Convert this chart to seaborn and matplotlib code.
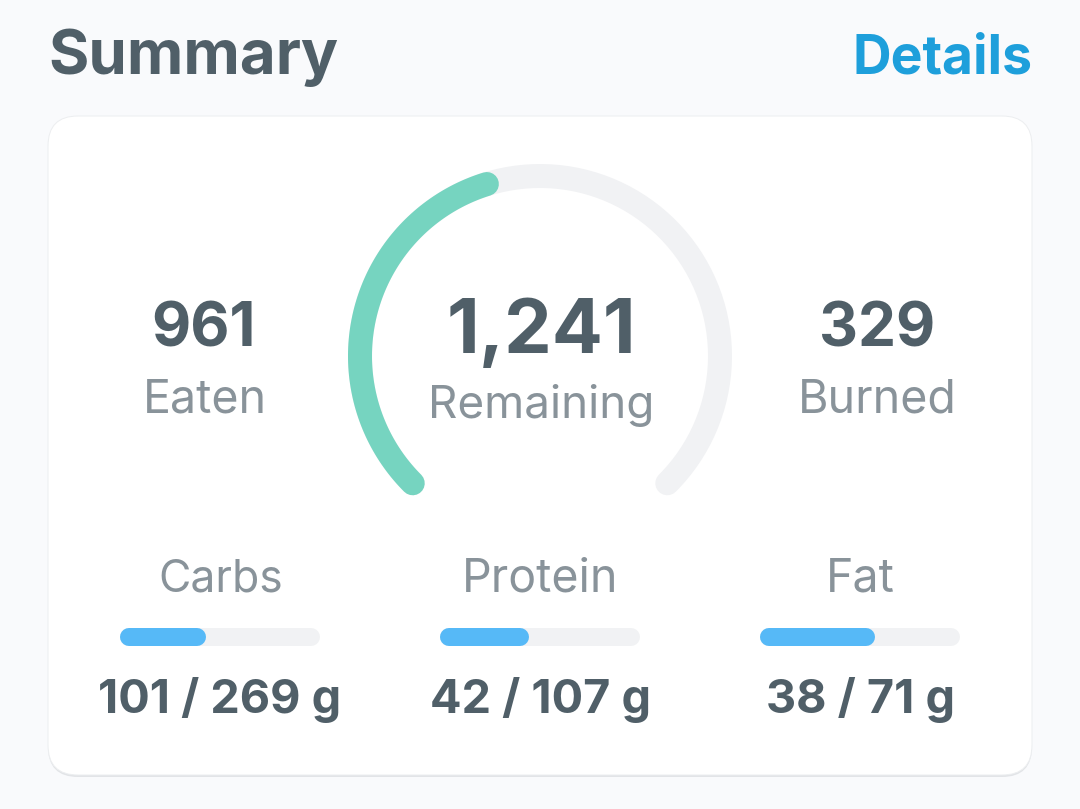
"""Nutrition summary card."""
import numpy as np
import matplotlib.pyplot as plt
import seaborn as sns
from matplotlib.patches import FancyBboxPatch

# Daily numbers
eaten = 961
remaining = 1241
burned = 329
macro_names = ["Carbs", "Protein", "Fat"]
macro_values = [101, 42, 38]
macro_goals = [269, 107, 71]

BG = "#F9FAFC"
DARK = "#505F68"
GREY = "#89939A"
LINK = "#1E9FDB"
GREEN = "#76D4C0"
TRACK = "#F1F2F4"
BLUE = "#56B9F7"

W, H = 1080, 809

sns.set_theme(style="white")
plt.rcParams["font.family"] = ["Inter", "DejaVu Sans"]


def px_axes(fig, left, top, right, bottom):
    """Axes placed by pixel box, y counted from the top."""
    ax = fig.add_axes([left / W, 1 - bottom / H, (right - left) / W, (bottom - top) / H])
    ax.set_axis_off()
    ax.patch.set_alpha(0)
    return ax


def rounded_line(ax, xs, ys, color, width):
    sns.lineplot(x=xs, y=ys, ax=ax, color=color, linewidth=width * 0.72, sort=False,
                 estimator=None, legend=False, solid_capstyle="round", clip_on=False)
    ax.set_xlabel("")
    ax.set_ylabel("")


fig = plt.figure(figsize=(W / 100, H / 100), dpi=100, facecolor=BG)

# Card and text layer in pixel coordinates
base = px_axes(fig, 0, 0, W, H)
base.set_xlim(0, W)
base.set_ylim(H, 0)
base.add_patch(FancyBboxPatch((48, 118), 984, 659, boxstyle="round,pad=0,rounding_size=30",
                              fc="#E2E4E7", ec="none"))
base.add_patch(FancyBboxPatch((48, 116), 984, 659, boxstyle="round,pad=0,rounding_size=30",
                              fc="white", ec="#ECEEF0", lw=0.7))


def label(x, y, text, size, color, weight="normal", ha="center"):
    base.text(x, y, text, fontsize=size, color=color, fontweight=weight, ha=ha, va="baseline")


label(48, 74, "Summary", 44.5, DARK, "bold", "left")
label(1032, 73, "Details", 38.5, LINK, "bold", "right")
label(204, 346, f"{eaten}", 43.5, DARK, "bold")
label(205, 412, "Eaten", 33.5, GREY)
label(541, 353, f"{remaining:,}", 54.5, DARK, "bold")
label(541, 418, "Remaining", 33, GREY)
label(877, 346, f"{burned}", 43.5, DARK, "bold")
label(877, 412, "Burned", 33.5, GREY)

# Gauge: 270 degree arc, filled by the eaten share
gauge = px_axes(fig, 360, 176, 720, 536)
gauge.set_xlim(-1, 1)
gauge.set_ylim(-1, 1)
share = eaten / (eaten + remaining)
angles = np.radians(np.linspace(225, -45, 200))
rounded_line(gauge, np.cos(angles), np.sin(angles), TRACK, 24)
filled = np.radians(np.linspace(225, 225 - 270 * share, 100))
rounded_line(gauge, np.cos(filled), np.sin(filled), GREEN, 24)

# Macro bars
for i, (name, value, goal) in enumerate(zip(macro_names, macro_values, macro_goals)):
    left = 129 + i * 320
    ax = px_axes(fig, left, 628, left + 182, 646)
    ax.set_xlim(0, goal)
    ax.set_ylim(-1, 1)
    rounded_line(ax, [0, goal], [0, 0], TRACK, 18)
    rounded_line(ax, [0, value], [0, 0], BLUE, 18)
    cx = left + 91
    label(cx + (1 if i == 0 else 0), 591, name, 32 if i == 0 else 33.5, GREY)
    label(cx, 713, f"{value} / {goal} g", 33.7, DARK, "bold")

fig.savefig("out.png", dpi=100, facecolor=BG)
